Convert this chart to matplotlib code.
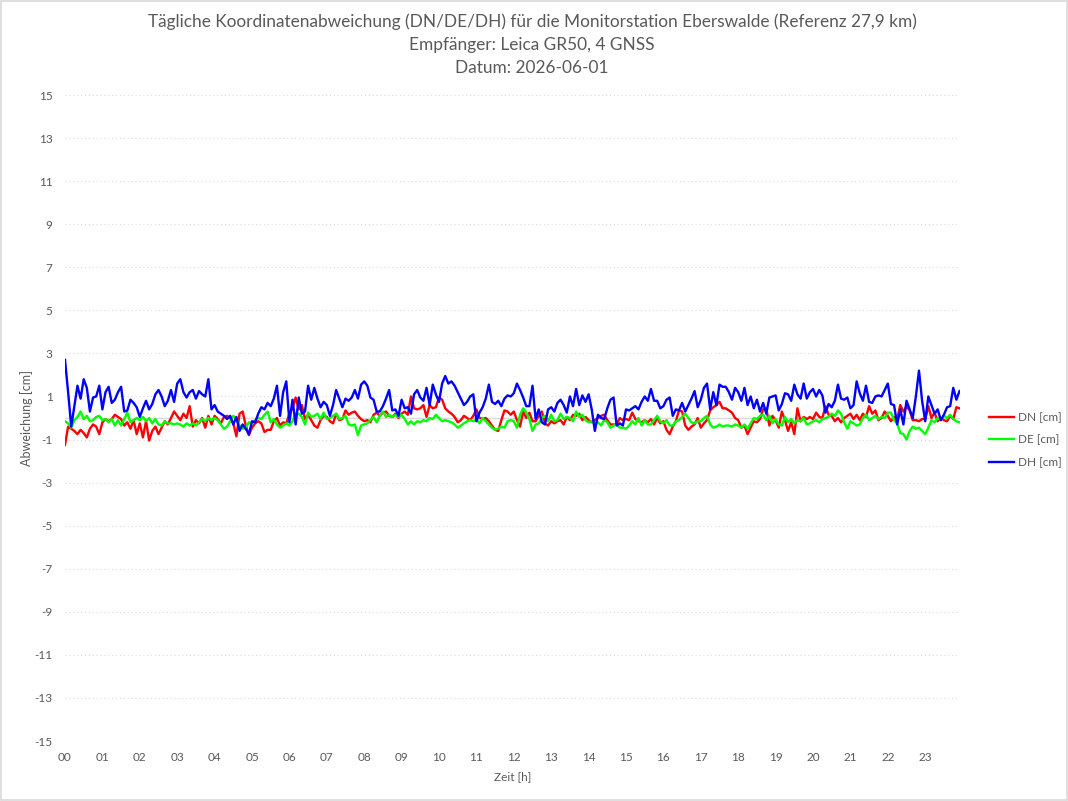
import numpy as np
import matplotlib
matplotlib.use("Agg")
import matplotlib.pyplot as plt
from matplotlib.patches import Rectangle

# 5-minute samples over one day, values in cm
dn = [-1.25, -0.4, -0.5, -0.6, -0.75, -0.55, -0.7, -0.9, -0.5, -0.3,
      -0.4, -0.75, -0.2, -0.05, -0.15, -0.05, 0.15, 0.05, -0.05, -0.35,
      -0.2, -0.5, -0.1, -0.75, -0.25, -0.9, -0.15, -1.05, -0.6, -0.4,
      -0.75, -0.45, -0.15, -0.3, 0.0, 0.3, 0.1, -0.1, 0.2, 0.0,
      0.55, -0.4, -0.1, -0.25, 0.0, -0.45, 0.1, -0.3,
      0.1, -0.05, -0.25, 0.05, 0.1, 0.0, -0.25, -0.85, 0.2, 0.3,
      -0.35, -0.8, -0.45, -0.25, -0.15, -0.25, -0.65, -0.55, -0.55, -0.15,
      0.0, -0.35, -0.2, -0.25, 0.2, 0.45, 0.95, 0.4, 0.6, -0.05,
      0.15, -0.1, -0.35, -0.45, -0.1, 0.1, 0.05, -0.15, -0.25, 0.2,
      -0.1, -0.05, 0.35, 0.15, 0.25, 0.3, 0.1, -0.05,
      -0.15, -0.1, -0.2, 0.15, 0.25, 0.1, 0.25, 0.3, 0.1, 0.05,
      0.2, 0.0, 0.2, 0.3, 0.15, 1.0, 0.45, 0.4, 0.45, 0.6,
      0.05, 0.6, 0.45, 0.5, 0.95, 0.85, 0.45, 0.3, 0.2, 0.05,
      -0.2, -0.1, 0.1, 0.0, -0.1, 0.1, 0.4, 0.0, -0.05, 0.0,
      -0.15, -0.35, -0.55, -0.6, -0.1, 0.35, 0.3, 0.15,
      0.3, -0.1, -0.4, 0.3, 0.0, 0.25, -0.15, -0.15, 0.1, 0.3,
      -0.25, -0.35, -0.15, -0.25, -0.15, -0.1, -0.3, 0.05, -0.1, 0.15,
      0.1, 0.2, -0.1, 0.05, -0.1, -0.2, -0.1, 0.0, 0.1, 0.15,
      -0.1, -0.3, -0.3, -0.3, 0.0, -0.1, -0.05, -0.1, 0.25, -0.05,
      -0.15, -0.2, -0.1, -0.2, -0.05, -0.3, 0.0, -0.25,
      -0.15, -0.55, -0.75, -0.4, -0.15, 0.35, 0.3, -0.35, -0.55, -0.4,
      -0.3, 0.0, -0.45, -0.25, -0.1, 0.35, 0.5, 0.6, 0.75, 0.45,
      0.45, 0.35, 0.25, 0.0, -0.1, -0.45, -0.35, -0.75, -0.45, -0.15,
      -0.2, -0.05, 0.4, 0.45, -0.35, 0.1, -0.1, -0.45, 0.3, -0.1,
      -0.6, -0.2, -0.75, 0.45, -0.15, 0.05, -0.05, 0.05,
      -0.05, 0.25, 0.05, 0.0, 0.55, 0.15, 0.1, -0.15, 0.0, -0.2,
      0.0, 0.1, 0.2, -0.05, 0.15, -0.1, 0.2, 0.05, 0.55, 0.2,
      0.35, -0.1, 0.0, 0.3, 0.1, -0.15, 0.05, -0.05, 0.6, 0.3,
      0.55, 0.35, -0.1, -0.1, -0.15, -0.05, -0.05, 0.55, 0.0, 0.25,
      -0.15, 0.0, -0.1, -0.15, 0.1, -0.05, 0.5, 0.45]

de = [-0.15, -0.25, -0.45, -0.1, 0.05, 0.3, -0.05, 0.1, -0.15, -0.1,
      0.05, 0.1, -0.1, -0.05, -0.2, -0.05, -0.35, -0.1, -0.35, -0.05,
      0.25, -0.2, -0.1, 0.0, -0.1, 0.05, -0.15, 0.0, -0.25, -0.05,
      -0.3, -0.35, -0.15, -0.25, -0.25, -0.3, -0.25, -0.3, -0.4, -0.25,
      -0.35, -0.25, -0.35, -0.2, -0.05, -0.15, 0.0, -0.1,
      0.0, -0.1, -0.3, -0.5, -0.4, -0.15, 0.1, -0.05, -0.35, -0.5,
      -0.45, -0.2, -0.25, -0.1, 0.0, -0.05, 0.15, 0.3, -0.2, -0.05,
      -0.3, -0.45, -0.35, -0.25, -0.35, -0.15, 0.2, 0.2, 0.05, -0.3,
      0.25, 0.05, 0.1, 0.2, -0.05, 0.25, -0.05, 0.0, 0.1, 0.2,
      -0.05, 0.0, 0.1, -0.3, -0.35, -0.3, -0.8, -0.35,
      -0.3, -0.25, -0.1, 0.05, -0.2, 0.1, 0.3, 0.05, 0.15, 0.05,
      0.15, 0.05, 0.15, -0.05, -0.3, -0.15, -0.3, -0.15, -0.2, -0.1,
      -0.15, 0.0, -0.05, 0.15, 0.0, -0.15, -0.1, -0.15, -0.2, -0.3,
      -0.45, -0.35, -0.25, -0.15, -0.1, -0.15, -0.05, -0.25, 0.0, -0.15,
      -0.3, -0.45, -0.55, -0.5, -0.4, -0.45, -0.15, -0.1,
      -0.15, -0.45, 0.15, 0.45, 0.25, -0.05, -0.6, -0.3, -0.25, 0.0,
      0.1, -0.15, 0.15, -0.15, -0.1, 0.2, -0.05, 0.05, 0.0, -0.15,
      0.3, 0.05, 0.15, -0.1, -0.2, -0.15, -0.3, -0.2, -0.35, -0.1,
      -0.2, -0.45, -0.35, -0.3, -0.45, -0.45, -0.5, -0.35, -0.15, -0.3,
      0.0, -0.35, -0.1, -0.3, -0.3, -0.1, 0.1, -0.15,
      -0.25, -0.1, -0.35, -0.35, -0.15, -0.1, 0.05, 0.2, 0.0, -0.2,
      -0.25, -0.15, -0.15, 0.0, 0.1, -0.3, -0.45, -0.4, -0.3, -0.4,
      -0.35, -0.35, -0.4, -0.3, -0.35, -0.45, -0.3, -0.5, -0.25, 0.0,
      -0.05, 0.1, 0.15, -0.1, 0.1, -0.25, -0.05, -0.3, -0.35, 0.05,
      -0.2, -0.05, -0.25, -0.1, -0.15, 0.0, -0.3, -0.25,
      -0.15, -0.1, -0.2, -0.05, 0.0, 0.05, 0.2, 0.1, 0.35, 0.2,
      -0.2, -0.5, -0.15, -0.25, -0.35, -0.3, 0.0, 0.15, -0.1, 0.0,
      0.1, -0.05, 0.05, 0.0, 0.25, 0.25, -0.1, -0.25, -0.7, -0.75,
      -1.0, -0.6, -0.4, -0.5, -0.45, -0.6, -0.75, -0.45, -0.1, -0.2,
      0.0, -0.1, 0.1, 0.0, 0.15, -0.05, -0.15, -0.2]

dh = [2.7, 1.2, -0.4, 0.55, 1.5, 0.9, 1.8, 1.4, 0.3, 0.95,
      1.0, 1.5, 0.4, 1.2, 1.45, 0.7, 0.85, 1.2, 1.45, 0.3,
      0.35, 0.85, 0.7, 0.5, 0.05, 0.45, 0.8, 0.4, 0.65, 1.1,
      1.3, 1.0, 0.55, 0.8, 1.3, 0.75, 1.6, 1.8, 1.2, 0.95,
      1.2, 1.3, 0.9, 1.25, 1.1, 1.0, 1.8, 0.4,
      0.6, 0.3, 0.2, 0.1, -0.05, 0.1, -0.3, 0.05, -0.6, -0.3,
      -0.5, -0.75, -0.15, -0.2, 0.2, 0.5, 0.4, 0.7, 0.55, 0.9,
      1.5, 0.1, 1.2, 1.7, -0.2, 0.85, -0.3, 0.95, 0.2, 0.3,
      1.5, 0.85, 1.4, 0.9, 0.5, 0.75, 0.6, 0.1, 0.6, 1.3,
      0.9, 0.5, 0.9, 0.8, 0.95, 1.3, 0.9, 1.55,
      1.7, 1.5, 0.95, 0.85, 0.3, 0.3, 0.55, 0.9, 1.3, 0.35,
      0.4, 0.1, 0.85, 0.45, 0.5, 0.2, 1.1, 1.3, 0.95, 0.8,
      1.4, 0.6, 1.55, 1.1, 0.75, 1.6, 1.95, 1.6, 1.7, 1.5,
      1.2, 0.9, 0.6, 0.75, 1.0, 1.1, -0.15, 0.25, 0.5, 0.9,
      1.55, 0.75, 0.65, 0.8, 0.55, 0.9, 1.05, 1.0,
      1.15, 1.6, 1.3, 0.95, 0.55, 0.55, 1.5, -0.05, 0.4, -0.2,
      -0.3, 0.4, 0.5, 0.3, 0.7, 0.85, 0.6, 0.25, 1.0, 0.55,
      1.35, 0.6, 1.05, 0.75, 1.1, 0.4, -0.6, 0.15, 0.0, -0.05,
      0.45, 0.85, 0.95, -0.35, -0.25, -0.35, 0.4, 0.35, 0.45, 0.55,
      0.4, 0.75, 1.0, 0.8, 1.35, 0.8, 0.8, 0.45,
      0.55, 0.85, 0.95, 0.1, 0.4, 0.35, 0.7, 0.3, 0.6, 0.9,
      1.25, 0.5, 0.85, 1.4, 1.6, 0.4, 1.2, 0.6, 1.55, 1.45,
      1.45, 1.2, 0.85, 1.4, 1.2, 0.8, 1.4, 0.6, 1.0, 0.45,
      0.85, 0.3, 0.7, 0.2, 0.95, 1.0, 1.05, 0.35, 0.65, 1.15,
      1.1, 0.8, 1.55, 1.1, 0.9, 1.6, 0.9, 1.2,
      1.35, 1.0, 1.3, 1.05, 0.25, 0.65, 0.5, 0.8, 1.55, 0.9,
      0.85, 0.95, 0.45, 0.6, 1.7, 1.15, 0.8, 1.5, 0.75, 0.7,
      1.0, 1.05, 1.0, 1.3, 1.6, 0.65, 0.6, -0.3, 0.4, -0.3,
      0.8, 0.4, 0.0, 1.0, 2.2, 0.8, -0.15, 1.0, 0.6, 0.2,
      0.4, -0.1, 0.15, 0.5, 0.55, 1.4, 0.85, 1.25]

series_names = ["DN [cm]", "DE [cm]", "DH [cm]"]
series_colors = ["#FF0000", "#00FF00", "#0000FF"]
hour_labels = ["%02d" % h for h in range(24)]
y_ticks = list(range(-15, 16, 2))

title = ("Tägliche Koordinatenabweichung (DN/DE/DH) für die Monitorstation Eberswalde (Referenz 27,9 km)\n"
         "Empfänger: Leica GR50, 4 GNSS\n"
         "Datum: 2026-06-01")

plt.rcParams['font.family'] = ['Lato', 'DejaVu Sans']
txt_col = "#595959"
grid_col = "#D9D9D9"

fig = plt.figure(figsize=(10.68, 8.01), dpi=100)
ax = fig.add_axes([65/1068, 1 - 741/801, (960 - 65)/1068, (741 - 95)/801])

for vals, name, col in zip([dn, de, dh], series_names, series_colors):
    t = np.arange(len(vals)) / 12.0
    ax.plot(t, vals, color=col, lw=1.7, label=name, solid_joinstyle='round')

ax.set_ylim(-15, 15)
ax.set_xlim(0, 23.93)
ax.set_yticks(y_ticks)
ax.set_yticklabels([str(v) for v in y_ticks])
ax.set_xticks(range(24))
ax.set_xticklabels(hour_labels)
ax.tick_params(length=0, labelsize=8.5, labelcolor=txt_col, pad=9)
ax.tick_params(axis='x', pad=8)

for v in y_ticks:
    ax.axhline(v, color=grid_col, lw=0.8, linestyle=(0, (1, 2.5)), zorder=0)
ax.axhline(0, color=grid_col, lw=1.0, zorder=0.5)

for s in ax.spines.values():
    s.set_visible(False)

ax.set_ylabel("Abweichung [cm]", fontsize=9, color=txt_col, labelpad=1)
ax.set_xlabel("Zeit [h]", fontsize=8.5, color=txt_col, labelpad=6)

fig.text(532/1068, 1 - 45/801, title, ha='center', va='center',
         fontsize=12.4, color=txt_col, linespacing=1.55)

ax.legend(loc='center left', bbox_to_anchor=(1.02, (741 - 440) / 646), frameon=False,
          fontsize=8.5, labelcolor=txt_col, handlelength=2.2,
          handletextpad=0.3, labelspacing=1.0)

fig.add_artist(Rectangle((0.001, 0.001), 0.998, 0.998, transform=fig.transFigure,
                         fill=False, edgecolor=grid_col, lw=1.2))

fig.savefig("out.png", dpi=100)
